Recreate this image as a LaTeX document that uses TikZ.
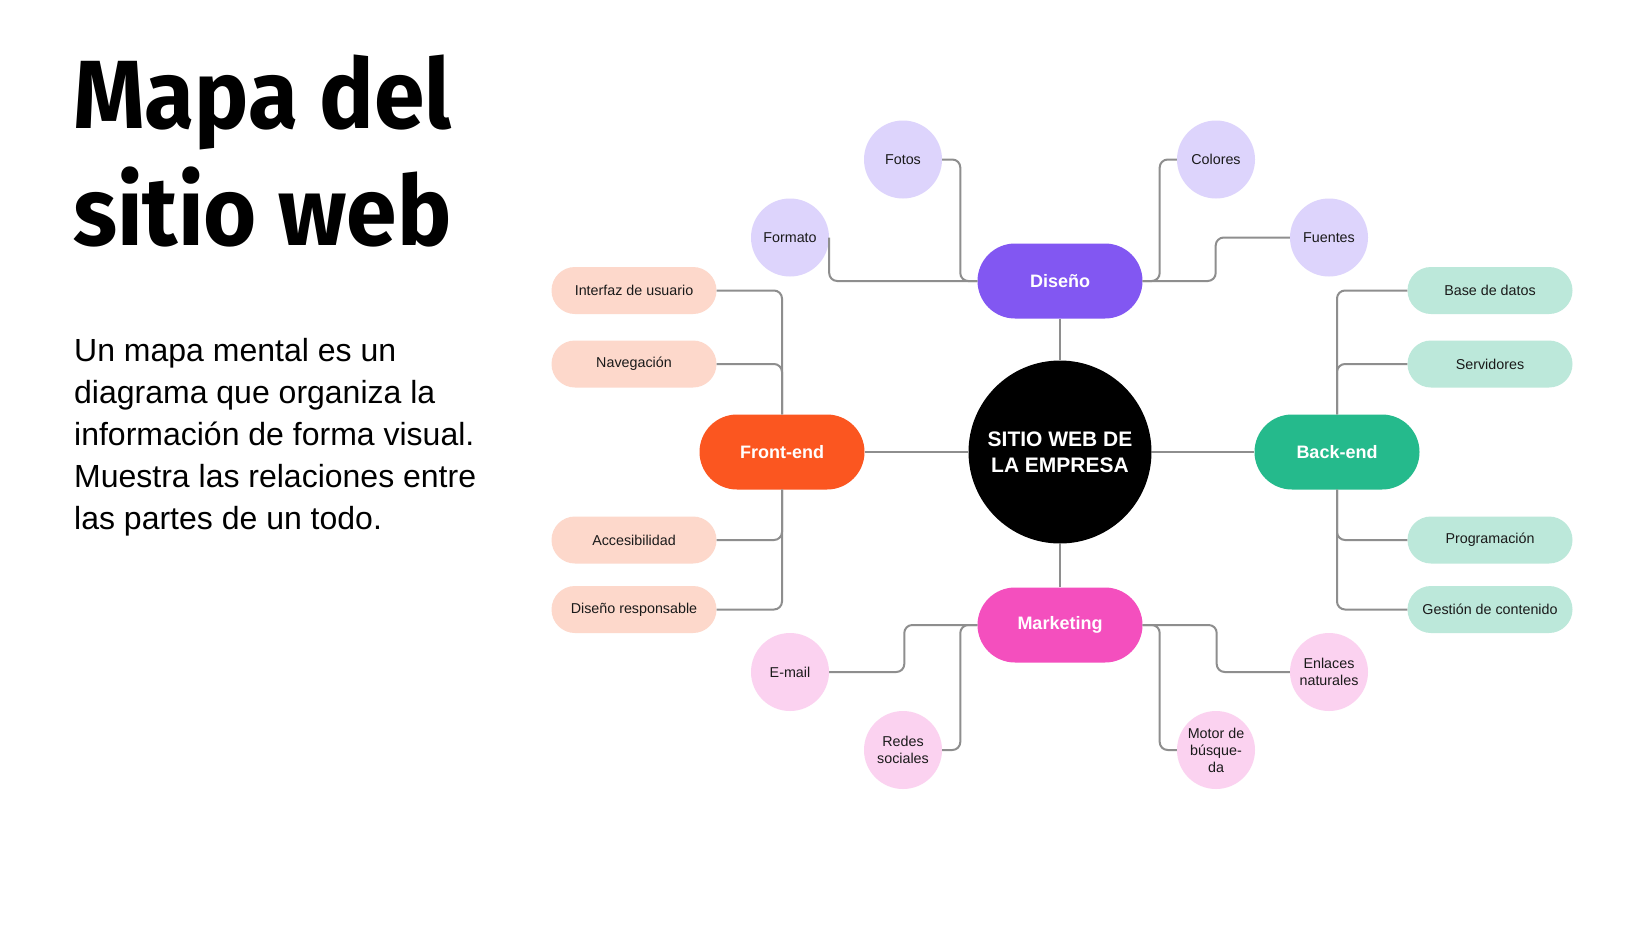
\documentclass[tikz,border=0pt]{standalone}
\usepackage{fontspec}
\setmainfont{Liberation Sans}
\newfontfamily\titlefont{Fira Sans}[FakeStretch=0.94]
\usetikzlibrary{calc}
\definecolor{linegray}{HTML}{8E8E8E}
\definecolor{cpurple}{HTML}{8257F2}
\definecolor{corange}{HTML}{FB5620}
\definecolor{cgreen}{HTML}{25BA8C}
\definecolor{cpink}{HTML}{F44FBE}
\definecolor{lpeach}{HTML}{FDD8CB}
\definecolor{lmint}{HTML}{BCE8DA}
\definecolor{llav}{HTML}{DDD4FC}
\definecolor{lpink}{HTML}{FBD2F0}
\definecolor{textdark}{HTML}{1A1A1A}
\tikzset{
  conn/.style={draw=linegray, line width=2pt, rounded corners=8pt},
  mainpill/.style={fill=#1, text=white, rounded corners=37.5pt, minimum width=165pt, minimum height=75pt, inner sep=0pt, font=\fontsize{18}{22}\selectfont\bfseries},
  leafpill/.style={fill=#1, text=textdark, rounded corners=23.5pt, minimum width=165pt, minimum height=47pt, inner sep=0pt, font=\fontsize{14.3}{17}\selectfont},
  bubble/.style={circle, fill=#1, text=textdark, minimum size=78pt, inner sep=0pt, align=center, font=\fontsize{14.3}{17}\selectfont},
  titleline/.style={anchor=base west, inner sep=0pt, font=\titlefont\bfseries\fontsize{97}{110}\selectfont},
  bodyline/.style={anchor=base west, inner sep=0pt, font=\fontsize{32}{41}\selectfont}
}
\begin{document}
\begin{tikzpicture}[x=1pt,y=-1pt]
\useasboundingbox[fill=white] (0,0) rectangle (1652,930);

% left text
\node[titleline] (t1) at (73,128) {Mapa del};
\node[titleline] (t2) at (73,245) {sitio web};
\node[bodyline] (b1) at (74,361.4) {Un mapa mental es un};
\node[bodyline] (b2) at (74,403.5) {diagrama que organiza la};
\node[bodyline] (b3) at (74,445.6) {información de forma visual.};
\node[bodyline] (b4) at (74,487.7) {Muestra las relaciones entre};
\node[bodyline] (b5) at (74,529.8) {las partes de un todo.};

% hub
\node[circle, fill=black, text=white, minimum size=183pt, inner sep=0pt, align=center,
      font=\fontsize{21}{26}\selectfont\bfseries] (hub) at (1060,452) {SITIO WEB DE\\LA EMPRESA};

% main pills
\node[mainpill=cpurple] (dis) at (1060,281) {Diseño};
\node[mainpill=corange] (fro) at (782,452) {Front-end};
\node[mainpill=cgreen] (bac) at (1337,452) {Back-end};
\node[mainpill=cpink] (mkt) at (1060,625) {Marketing};

% front-end leaves
\node[leafpill=lpeach] (ui) at (634,290.5) {Interfaz de usuario};
\node[leafpill=lpeach] (nav) at (634,364) {Navegación};
\node[leafpill=lpeach] (acc) at (634,540) {Accesibilidad};
\node[leafpill=lpeach] (dres) at (634,609.5) {Diseño responsable};

% back-end leaves
\node[leafpill=lmint] (bd) at (1490,290.5) {Base de datos};
\node[leafpill=lmint] (serv) at (1490,364) {Servidores};
\node[leafpill=lmint] (prog) at (1490,540) {Programación};
\node[leafpill=lmint] (gest) at (1490,609.5) {Gestión de contenido};

% diseno bubbles
\node[bubble=llav] (fotos) at (903,159.5) {Fotos};
\node[bubble=llav] (form) at (790,237.5) {Formato};
\node[bubble=llav] (col) at (1216,159.5) {Colores};
\node[bubble=llav] (fue) at (1329,237.5) {Fuentes};

% marketing bubbles
\node[bubble=lpink] (mail) at (790,672) {E-mail};
\node[bubble=lpink] (redes) at (903,750) {Redes\\sociales};
\node[bubble=lpink] (enl) at (1329,672) {Enlaces\\naturales};
\node[bubble=lpink] (mot) at (1216,750) {Motor de\\búsque-\\da};

% hub connectors
\draw[conn] (dis.south) -- (hub.north);
\draw[conn] (mkt.north) -- (hub.south);
\draw[conn] (fro.east) -- (hub.west);
\draw[conn] (bac.west) -- (hub.east);

% diseno connectors
\draw[conn] (fotos.east) -| ([xshift=-17pt]dis.west) -- (dis.west);
\draw[conn] (form.east) |- (dis.west);
\draw[conn] (dis.east) -- ([xshift=17pt]dis.east) |- (col.west);
\draw[conn] (dis.east) -- ([xshift=73pt]dis.east) |- (fue.west);

% marketing connectors
\draw[conn] (mail.east) -| ([xshift=-73pt]mkt.west) -- (mkt.west);
\draw[conn] (redes.east) -| ([xshift=-17pt]mkt.west) -- (mkt.west);
\draw[conn] (mkt.east) -- ([xshift=74pt]mkt.east) |- (enl.west);
\draw[conn] (mkt.east) -- ([xshift=17pt]mkt.east) |- (mot.west);

% front-end connectors
\draw[conn] (fro.north) |- (ui.east);
\draw[conn] (fro.north) |- (nav.east);
\draw[conn] (fro.south) |- (acc.east);
\draw[conn] (fro.south) |- (dres.east);

% back-end connectors
\draw[conn] (bac.north) |- (bd.west);
\draw[conn] (bac.north) |- (serv.west);
\draw[conn] (bac.south) |- (prog.west);
\draw[conn] (bac.south) |- (gest.west);
\end{tikzpicture}
\end{document}
